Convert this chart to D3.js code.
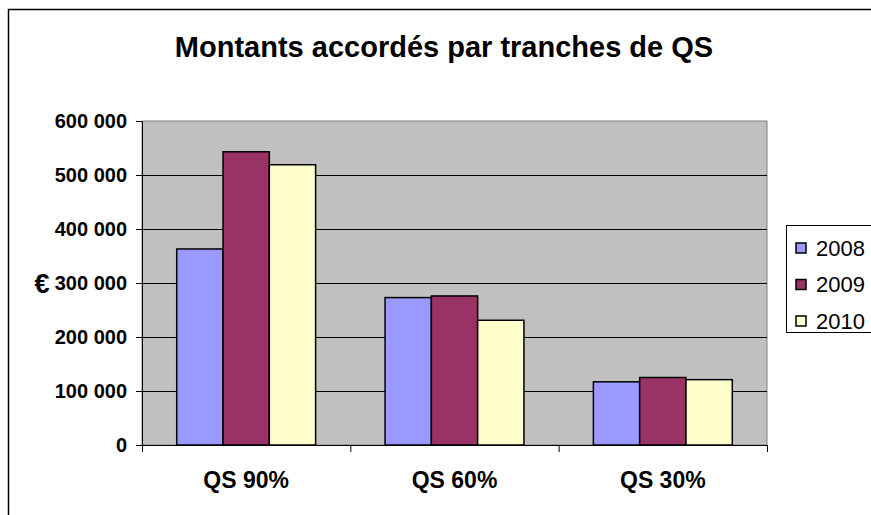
<!DOCTYPE html>
<html>
<head>
<meta charset="utf-8">
<script src="https://cdn.jsdelivr.net/npm/d3@7"></script>
<style>
  body { margin: 0; background: #fff; }
  text { font-family: "Liberation Sans", Arial, sans-serif; }
</style>
</head>
<body>
<svg id="canvas" width="871" height="515"></svg>
<script>
let categories = ["QS 90%", "QS 60%", "QS 30%"]
let years = ["2008", "2009", "2010"]
let values2008 = [363000, 273000, 117000]
let values2009 = [543000, 276000, 125000]
let values2010 = [519000, 231000, 121000]
let yTicks = [0, 100000, 200000, 300000, 400000, 500000, 600000]
let colors = ["#9999ff", "#993366", "#ffffcc"]

let series = [values2008, values2009, values2010]

let canvas = d3.select("#canvas")

let plotLeft = 142, plotRight = 767, plotTop = 121, plotBottom = 445

// outer chart border
canvas.append("rect")
    .attr("x", 8.5).attr("y", 9.5)
    .attr("width", 880).attr("height", 520)
    .attr("fill", "#fff")
    .attr("stroke", "#000")
    .attr("stroke-width", 1.5)

canvas.append("text")
    .attr("x", 444).attr("y", 57)
    .attr("text-anchor", "middle")
    .style("font-size", "29px")
    .style("font-weight", "bold")
    .text("Montants accordés par tranches de QS")

let y = d3.scaleLinear().domain([0, 600000]).range([plotBottom, plotTop])
let x0 = d3.scaleBand().domain(categories).range([plotLeft, plotRight]).padding(0)
let x1 = d3.scaleBand().domain(years).range([0, x0.bandwidth()]).paddingInner(0).paddingOuter(0.75)

// plot background
canvas.append("rect")
    .attr("x", plotLeft).attr("y", plotTop)
    .attr("width", plotRight - plotLeft).attr("height", plotBottom - plotTop)
    .attr("fill", "#c0c0c0")
    .attr("stroke", "#808080")
    .attr("stroke-width", 1)

// gridlines
canvas.append("g")
    .selectAll("line")
    .data(yTicks.slice(1, -1))
    .enter()
    .append("line")
    .attr("x1", plotLeft).attr("x2", plotRight)
    .attr("y1", d => Math.round(y(d)) + 0.5)
    .attr("y2", d => Math.round(y(d)) + 0.5)
    .attr("stroke", "#000")
    .attr("stroke-width", 1)

// bars
series.forEach((vals, si) => {
    canvas.append("g")
        .selectAll("rect")
        .data(vals)
        .enter()
        .append("rect")
        .attr("x", (d, i) => x0(categories[i]) + x1(years[si]))
        .attr("y", d => y(d))
        .attr("width", x1.bandwidth())
        .attr("height", d => plotBottom - y(d))
        .attr("fill", colors[si])
        .attr("stroke", "#000")
        .attr("stroke-width", 1.5)
})

// y axis
let yAxis = d3.axisLeft(y)
    .tickValues(yTicks)
    .tickSizeInner(6)
    .tickSizeOuter(0)
    .tickPadding(9)
    .tickFormat(d => d3.format(",")(d).replace(/,/g, " "))

let yg = canvas.append("g")
    .attr("transform", "translate(" + plotLeft + ",0)")
    .call(yAxis)
yg.attr("font-family", null).attr("font-size", null)
yg.select(".domain").attr("stroke", "#000")
yg.selectAll("text")
    .style("font-size", "20px")
    .style("font-weight", "bold")
    .attr("fill", "#000")

// x axis
let xAxis = d3.axisBottom(d3.scaleLinear().domain([0, 3]).range([plotLeft, plotRight]))
    .tickValues([0, 1, 2, 3])
    .tickSizeInner(7)
    .tickSizeOuter(0)
    .tickFormat("")
let xg = canvas.append("g")
    .attr("transform", "translate(0," + plotBottom + ")")
    .call(xAxis)
xg.select(".domain").attr("stroke", "#000")

canvas.append("g")
    .selectAll("text")
    .data(categories)
    .enter()
    .append("text")
    .attr("x", d => x0(d) + x0.bandwidth() / 2)
    .attr("y", 488)
    .attr("text-anchor", "middle")
    .style("font-size", "23px")
    .style("font-weight", "bold")
    .text(d => d)

// euro label
canvas.append("text")
    .attr("x", 42).attr("y", 293)
    .attr("text-anchor", "middle")
    .style("font-size", "27px")
    .style("font-weight", "bold")
    .text("€")

// legend
canvas.append("rect")
    .attr("x", 786.5).attr("y", 225.5)
    .attr("width", 100).attr("height", 107)
    .attr("fill", "#fff")
    .attr("stroke", "#000")
    .attr("stroke-width", 1)

years.forEach((yr, i) => {
    let cy = 248 + i * 36.5
    canvas.append("rect")
        .attr("x", 796).attr("y", cy - 5)
        .attr("width", 10).attr("height", 10)
        .attr("fill", colors[i])
        .attr("stroke", "#000")
        .attr("stroke-width", 1.5)
    canvas.append("text")
        .attr("x", 816).attr("y", cy + 7.5)
        .style("font-size", "22px")
        .text(yr)
})
</script>
</body>
</html>
